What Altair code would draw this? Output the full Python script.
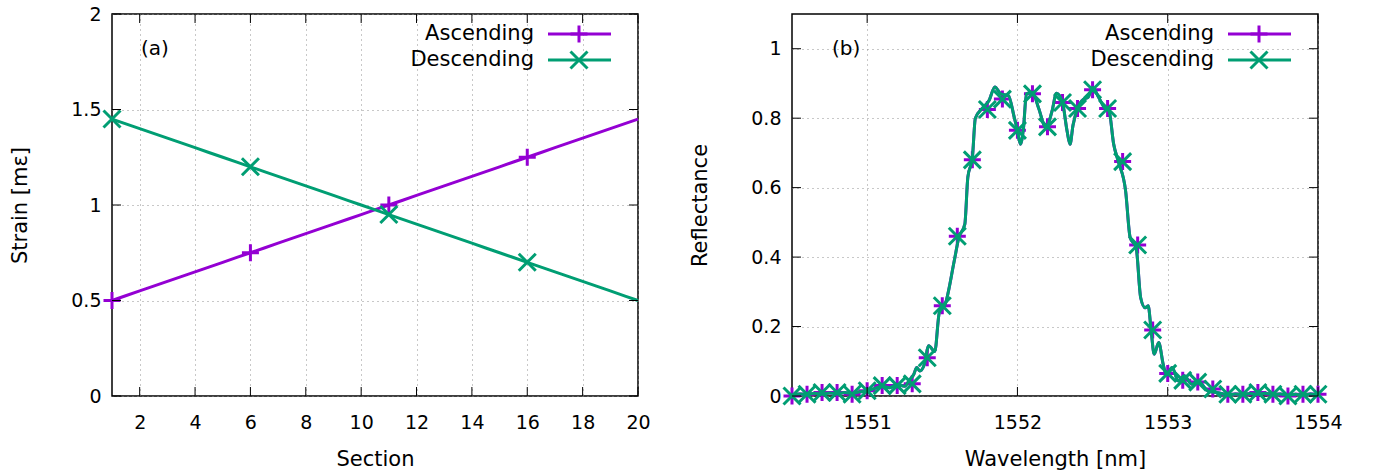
import altair as alt
import pandas as pd

PURPLE = "#9400D3"
GREEN = "#009E73"
FONT = "DejaVu Sans"
W, H = 526, 382
TICK = 9
MSIZE = 289
PLUS = "M-1,0L1,0M0,-1L0,1"
CROSS = "M-1,-1L1,1M-1,1L1,-1"

# ---------------- panel (a) data ----------------
sections = [1, 2, 3, 4, 5, 6, 7, 8, 9, 10, 11, 12, 13, 14, 15, 16, 17, 18, 19, 20]
strain_asc = [0.50, 0.55, 0.60, 0.65, 0.70, 0.75, 0.80, 0.85, 0.90, 0.95,
              1.00, 1.05, 1.10, 1.15, 1.20, 1.25, 1.30, 1.35, 1.40, 1.45]
strain_desc = [1.45, 1.40, 1.35, 1.30, 1.25, 1.20, 1.15, 1.10, 1.05, 1.00,
               0.95, 0.90, 0.85, 0.80, 0.75, 0.70, 0.65, 0.60, 0.55, 0.50]
section_ticks = [2, 4, 6, 8, 10, 12, 14, 16, 18, 20]
strain_ticks = [0, 0.5, 1, 1.5, 2]

# ---------------- panel (b) data ----------------
wl_line = [1550.50, 1550.55, 1550.60, 1550.65, 1550.70, 1550.75, 1550.80, 1550.85, 1550.90, 1550.95,
           1551.00, 1551.05, 1551.10, 1551.15, 1551.20, 1551.25, 1551.28, 1551.31, 1551.33, 1551.35,
           1551.38, 1551.41, 1551.45, 1551.48, 1551.52, 1551.58, 1551.61, 1551.65, 1551.67, 1551.70,
           1551.72, 1551.77, 1551.81, 1551.85, 1551.89, 1551.94, 1551.98, 1552.00, 1552.02, 1552.04,
           1552.06, 1552.10, 1552.14, 1552.19, 1552.23, 1552.26, 1552.30, 1552.33, 1552.35, 1552.37,
           1552.40, 1552.44, 1552.47, 1552.50, 1552.54, 1552.58, 1552.61, 1552.64, 1552.67, 1552.72,
           1552.75, 1552.79, 1552.82, 1552.85, 1552.87, 1552.89, 1552.91, 1552.94, 1552.97, 1552.99,
           1553.03, 1553.07, 1553.11, 1553.16, 1553.20, 1553.27, 1553.35, 1553.40, 1553.45, 1553.50,
           1553.55, 1553.60, 1553.65, 1553.70, 1553.75, 1553.80, 1553.85, 1553.90, 1553.95, 1554.00]
refl_line = [0.003, 0.006, 0.004, 0.008, 0.005, 0.009, 0.006, 0.010, 0.007, 0.012,
             0.015, 0.022, 0.028, 0.024, 0.033, 0.028, 0.045, 0.062, 0.082, 0.072,
             0.090, 0.145, 0.128, 0.240, 0.265, 0.390, 0.456, 0.495, 0.630, 0.685,
             0.800, 0.830, 0.850, 0.890, 0.870, 0.865, 0.800, 0.765, 0.725, 0.770,
             0.870, 0.875, 0.830, 0.773, 0.820, 0.872, 0.845, 0.764, 0.725, 0.780,
             0.828, 0.855, 0.860, 0.888, 0.860, 0.830, 0.820, 0.726, 0.677, 0.590,
             0.456, 0.427, 0.283, 0.254, 0.260, 0.187, 0.120, 0.154, 0.091, 0.062,
             0.082, 0.043, 0.058, 0.034, 0.043, 0.014, 0.008, 0.003, 0.006, 0.004,
             0.007, 0.005, 0.008, 0.004, 0.006, 0.002, 0.005, 0.003, 0.006, 0.004]
wl_pts = [1550.5, 1550.6, 1550.7, 1550.8, 1550.9, 1551.0, 1551.1, 1551.2, 1551.3, 1551.4,
          1551.5, 1551.6, 1551.7, 1551.8, 1551.9, 1552.0, 1552.1, 1552.2, 1552.3, 1552.4,
          1552.5, 1552.6, 1552.7, 1552.8, 1552.9, 1553.0, 1553.1, 1553.2, 1553.3, 1553.4,
          1553.5, 1553.6, 1553.7, 1553.8, 1553.9, 1554.0]
refl_pts = [0.000, 0.005, 0.010, 0.010, 0.005, 0.015, 0.030, 0.030, 0.035, 0.110,
            0.260, 0.460, 0.680, 0.825, 0.855, 0.765, 0.870, 0.775, 0.845, 0.828,
            0.882, 0.828, 0.675, 0.435, 0.190, 0.065, 0.045, 0.040, 0.020, 0.005,
            0.005, 0.010, 0.005, 0.000, 0.005, 0.005]
wl_ticks = [1551, 1552, 1553, 1554]
refl_ticks = [0, 0.2, 0.4, 0.6, 0.8, 1]

SERIES = [("Ascending", PURPLE, PLUS), ("Descending", GREEN, CROSS)]


def long_df(xs, ys_by_series):
    rows = []
    for name, ys in ys_by_series:
        for x, y in zip(xs, ys):
            rows.append({"x": x, "y": y, "series": name})
    return pd.DataFrame(rows)


def tick_layers(xvals, yvals, X, Y):
    tx = pd.DataFrame({"x": xvals})
    ty = pd.DataFrame({"y": yvals})
    rule = dict(color="black", strokeWidth=1)
    return [
        alt.Chart(tx).mark_rule(**rule).encode(x=X, y=alt.value(H), y2=alt.value(H - TICK)),
        alt.Chart(tx).mark_rule(**rule).encode(x=X, y=alt.value(0), y2=alt.value(TICK)),
        alt.Chart(ty).mark_rule(**rule).encode(y=Y, x=alt.value(0), x2=alt.value(TICK)),
        alt.Chart(ty).mark_rule(**rule).encode(y=Y, x=alt.value(W - TICK), x2=alt.value(W)),
    ]


def legend_layers():
    layers = []
    for i, (name, color, shape) in enumerate(SERIES):
        y = 20 + i * 26
        one = pd.DataFrame({"label": [name]})
        layers.append(alt.Chart(one).mark_text(align="right", baseline="middle", font=FONT,
                                               fontSize=21, color="black")
                      .encode(text="label:N", x=alt.value(422), y=alt.value(y)))
        layers.append(alt.Chart(one).mark_rule(color=color, strokeWidth=3)
                      .encode(x=alt.value(436), x2=alt.value(499), y=alt.value(y)))
        layers.append(alt.Chart(one).mark_point(shape=shape, size=MSIZE, strokeWidth=3, color=color,
                                                filled=False, opacity=1)
                      .encode(x=alt.value(467), y=alt.value(y)))
    return layers


def panel(line_df, pts_df, xs, ys, xaxis, yaxis, xt, yt, tag, tag_x):
    X = alt.X("x:Q", scale=xs, axis=xaxis)
    Y = alt.Y("y:Q", scale=ys, axis=yaxis)
    layers = []
    for name, color, shape in SERIES:
        layers.append(alt.Chart(line_df).transform_filter(alt.datum.series == name)
                      .mark_line(color=color, strokeWidth=3, interpolate="monotone")
                      .encode(x=X, y=Y))
        layers.append(alt.Chart(pts_df).transform_filter(alt.datum.series == name)
                      .mark_point(shape=shape, size=MSIZE, strokeWidth=3, color=color,
                                  filled=False, opacity=1)
                      .encode(x=X, y=Y))
    layers += tick_layers(xt, yt, X, Y)
    layers += legend_layers()
    layers.append(alt.Chart(pd.DataFrame({"t": [tag]})).mark_text(
        align="left", baseline="middle", font=FONT, fontSize=20, color="black")
        .encode(text="t:N", x=alt.value(tag_x), y=alt.value(35)))
    return alt.layer(*layers).properties(width=W, height=H)


# panel (a)
line_a = long_df(sections, [("Ascending", strain_asc), ("Descending", strain_desc)])
pts_a = line_a[line_a["x"].isin([1, 6, 11, 16])]
xs_a = alt.Scale(domain=[1, 20], nice=False, zero=False)
ys_a = alt.Scale(domain=[0, 2], nice=False, zero=False)
left = panel(line_a, pts_a, xs_a, ys_a,
             alt.Axis(title="Section", values=section_ticks, format="~g"),
             alt.Axis(title="Strain [mε]", values=strain_ticks, format="~g"),
             section_ticks, strain_ticks, "(a)", 29)

# panel (b)
line_b = long_df(wl_line, [("Ascending", refl_line), ("Descending", refl_line)])
pts_b = long_df(wl_pts, [("Ascending", refl_pts), ("Descending", refl_pts)])
xs_b = alt.Scale(domain=[1550.5, 1554], nice=False, zero=False)
ys_b = alt.Scale(domain=[0, 1.1], nice=False, zero=False)
right = panel(line_b, pts_b, xs_b, ys_b,
              alt.Axis(title="Wavelength [nm]", values=wl_ticks, format="~g"),
              alt.Axis(title="Reflectance", values=refl_ticks, format="~g"),
              wl_ticks, refl_ticks, "(b)", 40)

chart = (alt.hconcat(left, right, spacing=154, bounds="flush")
         .properties(padding={"left": 9, "top": 4, "right": 0, "bottom": 0})
         .configure_view(stroke="black", strokeWidth=1.5)
         .configure_axis(labelFont=FONT, labelFontSize=19, labelColor="black",
                         titleFont=FONT, titleFontSize=21, titleFontWeight="normal",
                         titleColor="black", ticks=False, domain=False, grid=True,
                         gridColor="#909090", gridDash=[1, 4], gridWidth=1,
                         labelFlush=False, labelOverlap=False)
         .configure_axisX(labelPadding=17, titlePadding=16)
         .configure_axisY(labelPadding=11, titlePadding=40))

chart.save("out.html", embed_options={"renderer": "svg", "actions": False})
